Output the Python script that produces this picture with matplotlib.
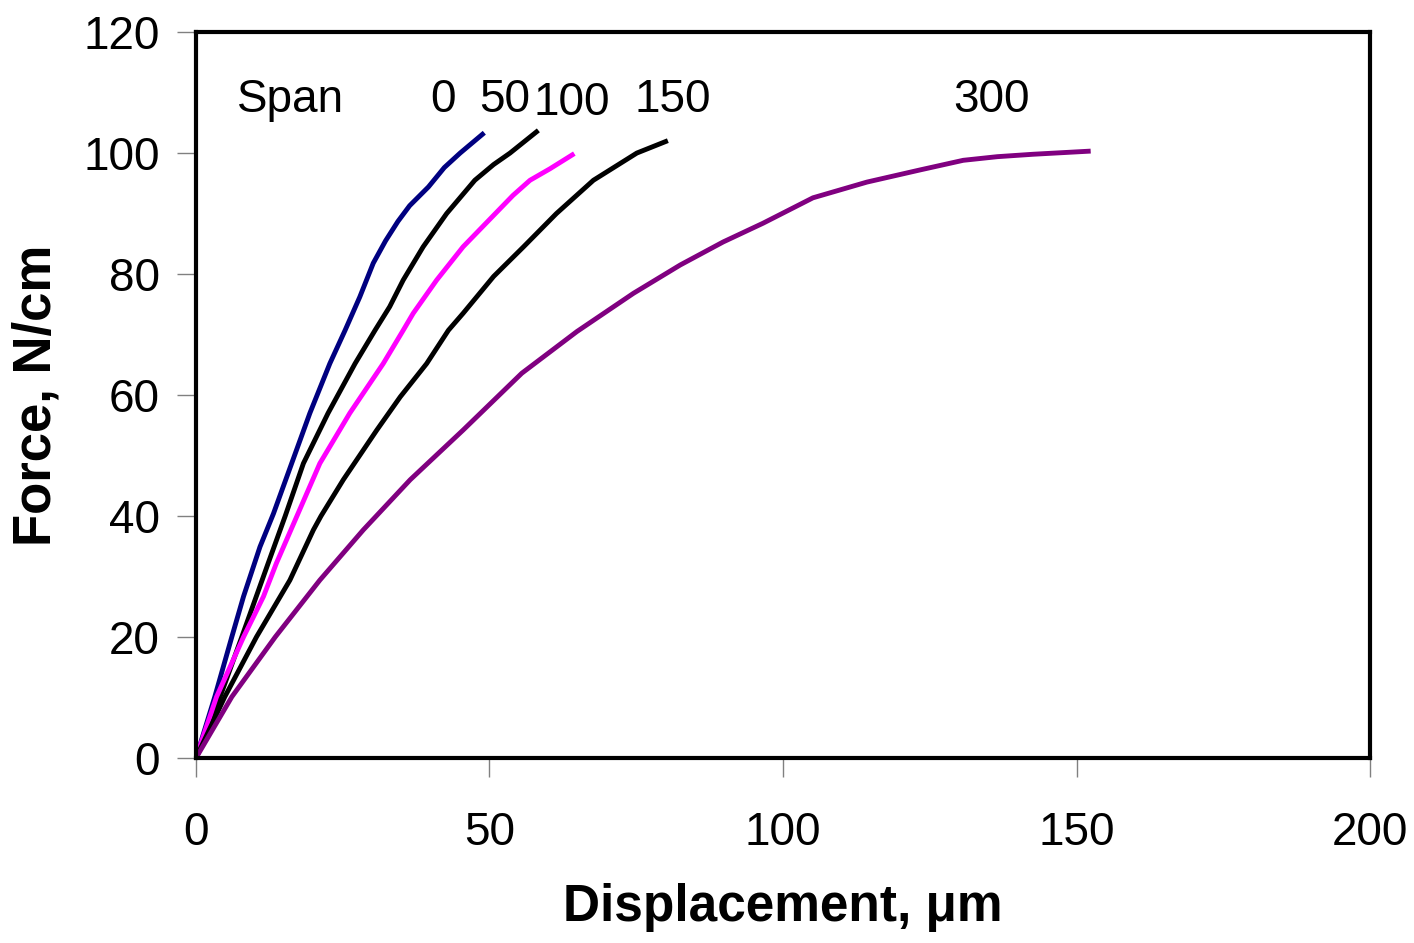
import matplotlib.pyplot as plt

plt.rcParams['font.family'] = ['Liberation Sans', 'DejaVu Sans']

# span 0
x_span0 = [0, 3.2, 6.1, 8.1, 10.9, 13.2, 16.3, 19.4, 22.8, 25.4, 27.9, 30.2, 32.3,
           34.4, 36.4, 39.6, 42.3, 45.0, 48.8]
y_span0 = [0, 10.1, 20, 26.7, 34.9, 40.4, 48.7, 57, 65.2, 70.7, 76.2, 81.8, 85.5,
           88.7, 91.3, 94.4, 97.6, 100, 103.1]
# span 50
x_span50 = [0, 4.1, 7.8, 12.3, 15.2, 18.3, 22.5, 27.1, 30.5, 33.0, 35.3,
            38.7, 42.7, 47.5, 50.7, 53.5, 58.0]
y_span50 = [0, 10.1, 20, 32.2, 40, 48.7, 57, 65.2, 70.7, 74.6, 79,
            84.5, 90, 95.5, 98.1, 100, 103.5]
# span 100
x_span100 = [0, 3.5, 8.1, 11.5, 13.7, 17.2, 21.1, 26.2, 31.9, 35.3, 37.0,
             41.0, 45.5, 51.0, 54.0, 56.9, 60.3, 64.1]
y_span100 = [0, 10.1, 20, 26.7, 32.2, 40, 48.7, 57, 65.2, 70.7, 73.5,
             79, 84.5, 90, 93, 95.5, 97.4, 99.7]
# span 150
x_span150 = [0, 4.9, 10.3, 16.0, 20.0, 21.3, 25.1, 30.8, 34.8, 39.3, 43.0, 45.5,
             50.7, 55.8, 61.4, 67.7, 75.1, 80.0]
y_span150 = [0, 10.1, 20, 29.4, 37.7, 40, 46, 54.2, 59.7, 65.2, 70.7, 73.5,
             79.6, 84.5, 90, 95.5, 100, 101.9]
# span 300
x_span300 = [0, 6.1, 13.5, 21.1, 28.5, 36.5, 45.5, 55.5, 64.9, 74.5, 82.5, 89.8,
             96.6, 105.1, 114.3, 123.3, 130.7, 136.5, 142.6, 152.0]
y_span300 = [0, 10.1, 20, 29.4, 37.7, 46, 54.2, 63.6, 70.5, 76.8, 81.5, 85.3,
             88.4, 92.6, 95.2, 97.2, 98.8, 99.4, 99.8, 100.3]

span_labels = ['0', '50', '100', '150', '300']
label_x = [42, 52.6, 64, 81.3, 135.6]
label_y = [108.8, 108.8, 108.2, 108.8, 108.8]

fig = plt.figure(figsize=(14.14, 9.43), dpi=100)
ax = fig.add_axes([0.1386, 0.1962, 0.8303, 0.7698])

lw = 3.5
ax.plot(x_span0, y_span0, color='#000080', lw=lw)
ax.plot(x_span50, y_span50, color='black', lw=lw)
ax.plot(x_span100, y_span100, color='#FF00FF', lw=lw)
ax.plot(x_span150, y_span150, color='black', lw=lw)
ax.plot(x_span300, y_span300, color='#800080', lw=lw)

ax.text(7, 108.8, 'Span', fontsize=33, va='center', ha='left')
for lab, lx, ly in zip(span_labels, label_x, label_y):
    ax.text(lx, ly, lab, fontsize=33, va='center', ha='center')

ax.set_xlim(0, 200)
ax.set_ylim(0, 120)
ax.set_xticks([0, 50, 100, 150, 200])
ax.set_yticks([0, 20, 40, 60, 80, 100, 120])

for s in ax.spines.values():
    s.set_linewidth(3)
ax.tick_params(axis='x', direction='out', length=14, width=1, color='gray',
               labelsize=33, pad=24)
ax.tick_params(axis='y', direction='out', length=14, width=1, color='gray',
               labelsize=33, pad=12)

ax.set_xlabel('Displacement, μm', fontsize=37, fontweight='bold', labelpad=20)
ax.set_ylabel('Force, N/cm', fontsize=38, fontweight='bold', labelpad=16)

fig.savefig('out.png', dpi=100)
